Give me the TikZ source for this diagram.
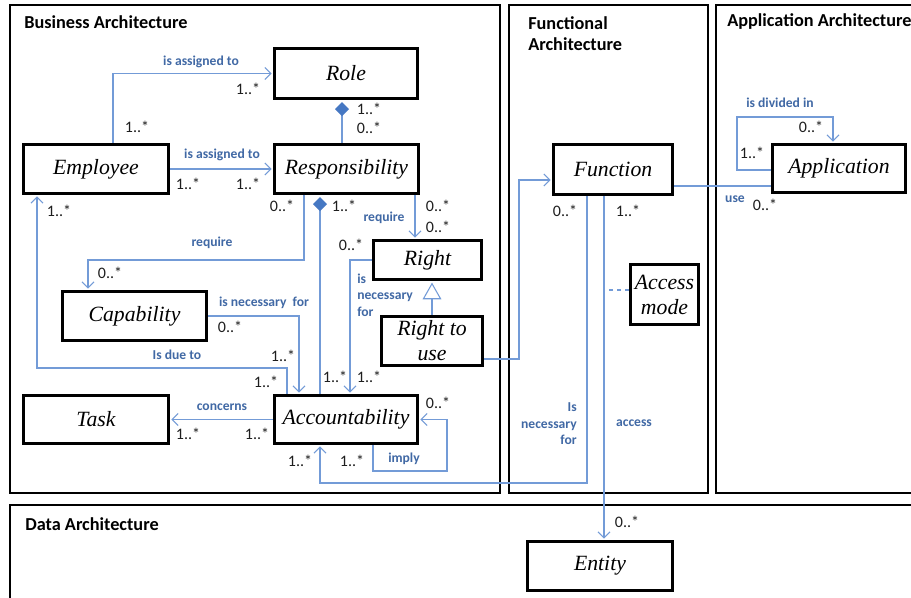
\documentclass[tikz,border=0pt]{standalone}
\usepackage{fontspec}
\setmainfont{Liberation Serif}
\newfontfamily\calfont{Carlito}
\usetikzlibrary{arrows.meta}
\definecolor{lineblue}{RGB}{115,155,215}
\definecolor{labblue}{RGB}{65,105,165}
\definecolor{diablue}{RGB}{70,120,195}
\definecolor{multcol}{RGB}{30,30,30}
\newcommand\mybxfont{\fontsize{16.3}{18.75}\selectfont\itshape}
\newcommand\mylbfont{\calfont\bfseries\fontsize{10.2}{12.4}\selectfont}
\newcommand\mymlfont{\calfont\fontsize{12}{13}\selectfont}
\newcommand\myhdfont{\calfont\bfseries\fontsize{13.7}{15.75}\selectfont}
\tikzset{
 ubox/.style={draw, line width=2.25pt, font=\mybxfont, align=center, inner sep=0pt},
 conn/.style={draw=lineblue, line width=0.8pt},
 arr/.style={conn, -{Straight Barb[length=4.5pt,width=9pt]}, shorten >=1.1pt},
 comp/.style={conn, -{Diamond[fill=diablue, color=diablue, length=10.5pt, width=10.5pt]}, shorten >=1.6pt},
 gen/.style={conn, -{Triangle[open, fill=white, length=12.5pt, width=14pt]}, shorten >=1.2pt},
 lab/.style={font=\mylbfont, text=labblue, inner sep=0pt},
 mult/.style={font=\mymlfont, text=multcol, inner sep=0pt},
 hdr/.style={font=\myhdfont, inner sep=0pt, anchor=west, align=left},
 frame/.style={draw, line width=1.1pt}
}
\newcommand\bx[6]{\node[ubox, minimum width={(#4-#2-3)*0.75pt}, minimum height={(#5-#3-3)*0.75pt}] (#1) at ({(#2+#4)/2},{(#3+#5)/2}) {#6};}
\begin{document}
\begin{tikzpicture}[x=0.75pt,y=-0.75pt]
\clip (0,0) rectangle (911,598);
\fill[white] (0,0) rectangle (911,598);
% frames
\draw[frame] (10,5) rectangle (500,493);
\draw[frame] (509,5) rectangle (708,493);
\draw[frame] (716,5) rectangle (925,493);
\draw[frame] (10,505) rectangle (925,620);
\node[hdr] (hba) at (24,22) {Business Architecture};
\node[hdr] (hfa) at (528,33.5) {Functional\\Architecture};
\node[hdr] (haa) at (727,22) {Application Architecture};
\node[hdr] (hda) at (25,524) {Data Architecture};
% boxes
\bx{role}{273}{47}{419}{100}{Role}
\bx{emp}{22}{143}{170}{195}{Employee}
\bx{resp}{273}{143}{420}{195}{Responsibility}
\bx{right}{372}{239}{483}{281}{Right}
\bx{rtu}{380}{315}{484}{367}{Right to\\use}
\bx{cap}{61}{290}{208}{342}{Capability}
\bx{task}{22}{394}{170}{445}{Task}
\bx{acc}{273}{394}{419}{445}{Accountability}
\bx{func}{552}{143}{674}{196}{Function}
\bx{app}{771}{143}{907}{194}{Application}
\bx{am}{629}{263}{700}{326}{Access\\mode}
\bx{ent}{526}{540}{674}{592}{Entity}
% connectors
\draw[arr] (113,0 |- emp.north) |- (role.west);
\draw[arr] (emp.east) -- (resp.west);
\draw[comp] (resp.north -| 342,0) -- (role.south -| 342,0);
\draw[arr] (resp.south -| 415,0) -- (right.north -| 415,0);
\draw[arr] (resp.south -| 304,0) -- (304,260) -- (88,260) -- (cap.north -| 88,0);
\draw[comp] (acc.north -| 320,0) -- (resp.south -| 320,0);
\draw[arr] (right.west) -- (350,260) -- (acc.north -| 350,0);
\draw[gen] (rtu.north -| 432,0) -- (right.south -| 432,0);
\draw[arr] (cap.east) -- (299,316) -- (acc.north -| 299,0);
\draw[arr] (acc.north -| 287,0) -- (287,368) -- (37,368) -- (emp.south -| 37,0);
\draw[arr] (acc.west) -- (task.east);
\draw[arr] (acc.south -| 373,0) -- (373,471) -- (447,471) -- (447,419.5) -- (acc.east);
\draw[arr] (func.south -| 587,0) -- (587,483) -- (320,483) -- (acc.south -| 320,0);
\draw[arr] (rtu.east |- 0,359) -- (519,359) -- (519,180) -- (func.west |- 0,180);
\draw[conn] (func.east |- 0,186) -- (app.west |- 0,186);
\draw[arr] (app.west |- 0,170) -- (737,170) -- (737,117) -- (833,117) -- (app.north -| 833,0);
\draw[arr] (func.south -| 604,0) -- (ent.north -| 604,0);
\coordinate (amj) at (604,290);
\draw[conn, dashed] (am.west |- 0,290) -- (amj);
% labels
\node[lab] (l1) at (201,62) {is assigned to};
\node[lab] (l2) at (222,155) {is assigned to};
\node[lab] (l3) at (384,218) {require};
\node[lab] (l4) at (212,243) {require};
\node[lab] (l5) at (264,303) {is necessary\ \ for};
\node[lab] (l6) at (177,355) {Is due to};
\node[lab] (l7) at (222,407) {concerns};
\node[lab] (l8) at (404,459) {imply};
\node[lab, align=left, anchor=west] (l9) at (357,295) {is\\necessary\\for};
\node[lab, align=right, anchor=east] (l10) at (577,424) {Is\\necessary\\for};
\node[lab] (l11) at (735,199) {use};
\node[lab] (l12) at (780,103) {is divided in};
\node[lab] (l13) at (634,423) {access};
% multiplicities
\node[mult] (m1) at (137,127) {1..*};
\node[mult] (m2) at (248,89) {1..*};
\node[mult] (m3) at (188,184) {1..*};
\node[mult] (m4) at (248,184) {1..*};
\node[mult] (m5) at (369,109) {1..*};
\node[mult] (m6) at (369,128) {0..*};
\node[mult] (m7) at (282,206) {0..*};
\node[mult] (m8) at (344,206) {1..*};
\node[mult] (m9) at (438,206) {0..*};
\node[mult] (m10) at (438,227) {0..*};
\node[mult] (m11) at (59,211) {1..*};
\node[mult] (m12) at (351,245) {0..*};
\node[mult] (m13) at (110,273) {0..*};
\node[mult] (m14) at (230,327) {0..*};
\node[mult] (m15) at (283,356) {1..*};
\node[mult] (m16) at (266,382) {1..*};
\node[mult] (m17) at (335,377) {1..*};
\node[mult] (m18) at (369,377) {1..*};
\node[mult] (m19) at (438,403) {0..*};
\node[mult] (m20) at (188,434) {1..*};
\node[mult] (m21) at (257,434) {1..*};
\node[mult] (m22) at (300,461) {1..*};
\node[mult] (m23) at (352,461) {1..*};
\node[mult] (m24) at (565,211) {0..*};
\node[mult] (m25) at (628,211) {1..*};
\node[mult] (m26) at (811,127) {0..*};
\node[mult] (m27) at (752,153) {1..*};
\node[mult] (m28) at (765,205) {0..*};
\node[mult] (m29) at (627,522) {0..*};
\end{tikzpicture}
\end{document}
